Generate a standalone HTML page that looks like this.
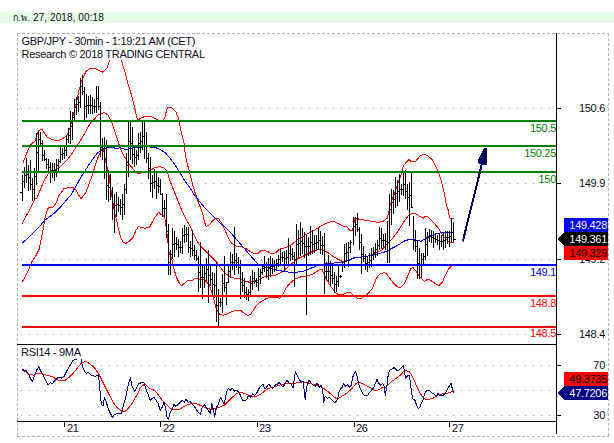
<!DOCTYPE html>
<html><head><meta charset="utf-8"><title>GBP/JPY - 30min</title>
<style>
html,body{margin:0;padding:0;background:#fff;}
body{width:614px;height:443px;overflow:hidden;position:relative;font-family:"Liberation Sans","Noto Sans CJK SC",sans-serif;}
#hdr{position:absolute;left:0;top:12px;width:614px;height:11px;background:#e6fde6;}
#hdr span{position:absolute;left:13px;top:0px;font-size:10px;letter-spacing:0.08px;line-height:12px;color:#0a0a22;white-space:nowrap;}
#hdr i{font-style:normal;font-size:9px;letter-spacing:0.3px;}
svg{position:absolute;left:0;top:0;}
svg text{font-family:"Liberation Sans","Noto Sans CJK SC",sans-serif;font-size:11px;letter-spacing:-0.3px;}
</style></head><body>
<div id="hdr"><span><i>ก.พ.</i> 27, 2018, 00:18</span></div>
<svg width="614" height="443" viewBox="0 0 614 443">
<g fill="none" stroke="#b0b0b0" stroke-width="1" stroke-dasharray="3 2" shape-rendering="crispEdges">
<path d="M17 33.5H609"/><path d="M17.5 33V437"/><path d="M608.5 33V437"/><path d="M17 436.5H609"/></g>
<g fill="none" stroke="#a8a8a8" stroke-width="1" stroke-dasharray="1 7" shape-rendering="crispEdges">
<path d="M21 108.5H556"/>
<path d="M21 183.5H556"/>
<path d="M21 259.5H556"/>
<path d="M21 334.5H556"/>
<path d="M21 365.5H556"/>
<path d="M21 390.5H556"/>
<path d="M21 415.5H556"/>
</g>
<g fill="none" stroke-width="1" stroke-linejoin="round" shape-rendering="crispEdges">
<path stroke="#ff0000" d="M23.0 163.0 L28.0 150.0 L30.3 145.0 L35.0 141.0 L38.7 130.5 L42.0 129.3 L47.0 137.0 L52.0 139.5 L58.7 141.0 L65.0 137.0 L67.0 135.0 L70.0 128.0 L72.0 120.0 L75.0 108.0 L77.0 100.0 L79.0 90.0 L82.0 80.0 L86.0 71.5 L90.0 68.3 L95.3 68.5 L99.0 70.5 L103.0 72.2 L107.0 68.0 L109.4 61.0 L111.0 56.0 L113.0 51.0 L115.5 48.5 L118.0 51.0 L120.0 56.0 L121.3 60.0 L125.3 73.3 L128.0 84.0 L132.0 96.7 L136.3 115.0 L137.5 120.5 L141.0 118.0 L146.0 116.0 L151.0 116.5 L156.0 119.0 L160.0 121.0 L163.0 120.5 L165.0 117.0 L166.6 110.0 L168.0 107.0 L172.0 108.0 L176.0 112.0 L178.7 119.0 L180.3 128.0 L182.3 136.0 L184.0 143.0 L185.3 154.0 L187.3 164.0 L189.0 170.0 L192.0 182.0 L195.0 192.5 L198.0 201.5 L201.0 209.0 L203.0 215.0 L204.3 222.0 L206.3 226.4 L209.3 225.0 L212.3 221.3 L215.4 218.3 L218.4 218.3 L220.4 221.3 L223.4 226.4 L226.4 233.4 L228.4 238.0 L231.4 243.0 L235.5 246.0 L240.5 246.4 L246.5 249.0 L252.5 253.0 L257.6 253.7 L260.6 251.0 L263.0 250.2 L267.0 251.2 L272.0 253.9 L276.0 252.7 L279.0 249.2 L285.0 247.8 L291.0 245.2 L297.0 240.2 L305.0 235.2 L313.0 231.1 L321.0 226.1 L327.0 223.1 L333.0 221.1 L338.0 223.7 L343.0 226.1 L347.0 227.1 L350.0 230.4 L352.0 231.0 L353.5 226.0 L355.0 218.3 L360.0 219.3 L366.0 220.3 L372.1 221.3 L378.1 222.3 L383.2 221.3 L387.2 218.3 L388.6 213.3 L390.2 205.3 L392.2 199.2 L394.6 193.2 L396.6 187.2 L401.2 174.1 L403.3 166.3 L406.0 162.5 L409.0 159.4 L411.0 161.4 L415.5 161.8 L416.5 160.0 L420.4 155.7 L423.6 154.1 L427.7 155.5 L432.6 160.2 L435.8 166.3 L438.3 172.4 L440.7 178.5 L442.3 185.0 L444.5 194.2 L446.3 205.0 L448.2 209.9 L449.2 215.8 L450.2 218.2 L453.5 218.2"/>
<path stroke="#ff0000" d="M22.0 223.5 L29.0 211.0 L35.3 198.3 L37.0 198.0 L43.0 183.0 L48.0 174.0 L50.3 171.7 L57.0 169.0 L60.3 166.7 L67.0 160.0 L71.0 155.0 L75.3 148.3 L77.0 146.0 L83.7 135.0 L90.3 123.3 L98.7 114.5 L104.5 112.5 L108.0 115.0 L112.0 123.3 L117.0 138.3 L118.3 142.0 L120.0 148.0 L124.0 156.0 L129.0 164.0 L134.0 170.0 L138.0 174.0 L141.0 173.0 L146.0 171.5 L151.0 170.0 L155.0 167.5 L160.0 166.7 L164.0 168.0 L167.0 171.0 L170.0 181.0 L174.0 191.0 L178.0 201.0 L182.0 211.0 L186.0 219.0 L190.0 226.0 L193.0 233.0 L195.3 238.0 L198.3 243.0 L202.3 248.0 L207.3 253.0 L212.3 258.0 L217.4 263.0 L222.4 270.2 L226.4 274.2 L230.4 277.2 L234.5 278.2 L239.5 278.8 L244.5 281.2 L249.5 282.2 L253.5 281.8 L258.6 279.8 L263.0 277.3 L269.0 276.0 L275.0 275.4 L283.0 271.3 L291.0 264.3 L297.0 259.3 L303.0 256.3 L309.0 253.3 L315.0 250.2 L321.0 249.2 L325.0 251.2 L329.0 253.3 L333.0 256.3 L338.0 259.3 L342.0 261.3 L347.0 260.5 L353.4 258.3 L361.5 256.9 L367.5 256.3 L375.5 253.3 L381.6 250.2 L386.0 245.2 L392.0 239.2 L398.0 231.1 L403.0 223.1 L408.0 216.0 L412.0 213.4 L415.0 213.3 L419.0 215.8 L423.3 218.2 L424.8 216.5 L427.2 216.2 L429.7 218.7 L434.6 223.6 L438.5 228.5 L441.4 233.3 L443.8 236.8 L446.3 239.2 L448.7 242.0 L451.2 242.4 L453.5 242.4"/>
<path stroke="#ff0000" d="M22.0 282.4 L27.0 273.4 L32.1 261.3 L36.1 255.3 L39.1 249.3 L41.1 239.2 L43.1 229.2 L45.1 217.1 L48.1 208.1 L53.2 207.1 L56.2 203.0 L59.2 195.0 L62.0 191.5 L64.0 188.5 L72.0 187.0 L76.0 190.0 L81.0 199.0 L86.0 192.0 L92.0 176.0 L97.0 160.0 L101.0 150.5 L102.5 148.5 L104.0 152.0 L106.0 163.0 L109.0 175.0 L111.0 190.0 L113.0 203.0 L114.5 212.0 L116.3 218.9 L118.5 228.9 L121.0 238.3 L123.5 242.7 L126.0 243.3 L129.1 241.4 L132.9 237.7 L136.0 230.2 L138.5 226.4 L141.7 227.4 L144.8 228.3 L149.8 227.0 L151.7 223.2 L153.6 219.5 L156.1 215.7 L158.6 212.3 L161.1 214.5 L163.6 215.7 L164.9 218.2 L165.8 223.9 L166.8 232.7 L167.8 240.2 L168.7 251.7 L172.0 260.0 L173.8 268.0 L176.2 277.0 L179.2 283.0 L181.8 285.8 L185.2 282.6 L188.2 280.0 L192.3 280.6 L195.3 278.0 L199.0 279.0 L204.3 280.0 L209.3 285.0 L211.3 291.0 L213.4 298.0 L215.4 306.0 L217.4 311.0 L219.4 314.0 L223.4 315.4 L228.4 313.4 L232.4 311.4 L236.5 310.3 L240.5 310.3 L243.5 312.8 L247.5 315.4 L250.5 314.4 L253.5 310.3 L255.6 306.3 L258.6 303.3 L263.0 300.5 L267.0 298.2 L273.0 297.2 L280.0 298.2 L283.0 294.2 L286.0 288.2 L290.0 283.1 L295.0 279.1 L300.0 277.1 L306.0 276.1 L313.0 274.1 L319.0 270.1 L322.0 269.5 L324.3 275.1 L327.3 281.1 L331.3 287.2 L335.3 292.2 L338.4 294.8 L343.4 294.2 L347.4 292.2 L350.4 292.2 L353.4 295.2 L357.5 298.2 L361.5 298.2 L364.5 296.2 L368.5 293.2 L372.5 288.2 L374.5 283.1 L376.5 278.1 L379.6 274.1 L383.6 272.7 L386.0 273.3 L389.0 277.3 L393.0 282.4 L397.0 286.4 L400.0 287.8 L404.0 284.4 L408.0 275.3 L411.0 268.3 L413.0 267.5 L416.0 271.0 L419.0 275.5 L421.2 278.4 L424.2 281.4 L428.2 279.0 L432.3 281.4 L436.3 284.4 L439.3 285.4 L442.3 282.4 L445.3 275.3 L448.3 269.3 L451.3 266.3 L453.0 265.3"/>
<path stroke="#0000ff" d="M22.0 243.2 L29.0 237.2 L37.1 229.2 L45.1 220.1 L53.2 214.1 L61.2 206.1 L71.3 194.5 L80.3 178.3 L88.7 165.0 L97.0 153.3 L101.0 151.0 L103.7 148.6 L108.0 147.8 L113.7 147.9 L118.0 148.5 L120.0 147.5 L124.0 149.0 L128.0 149.0 L132.0 148.0 L138.0 147.8 L144.0 146.8 L150.0 147.0 L156.0 147.8 L161.0 150.0 L165.0 152.5 L170.0 158.0 L175.0 165.0 L180.0 173.0 L185.0 181.0 L190.0 188.0 L195.0 196.0 L200.0 202.0 L205.0 208.0 L210.0 213.0 L215.0 218.0 L220.0 223.0 L225.0 227.0 L230.0 232.0 L234.5 237.0 L240.5 244.0 L246.5 251.0 L252.5 258.0 L257.6 263.7 L263.0 266.5 L273.0 269.3 L283.0 271.3 L293.0 272.8 L303.0 271.3 L311.0 268.3 L319.0 264.5 L330.0 263.3 L343.0 262.3 L349.0 260.3 L355.0 257.3 L363.5 256.9 L371.5 255.3 L379.6 253.3 L386.0 251.6 L392.0 248.2 L398.0 245.2 L404.0 241.2 L410.0 239.2 L416.0 240.2 L421.2 241.2 L426.2 238.2 L432.3 235.1 L438.3 233.1 L446.3 232.7 L453.0 232.1"/>
</g>
<path fill="none" stroke="#000" stroke-width="1" shape-rendering="crispEdges" d="M20 192.5h2M22.5 175V201M23 181.5h1M24.5 167V188M25 175.5h1M26.5 158V183M27 174.5h1M28.5 165V191M29 177.5h1M30.5 160V190M31 184.5h1M32.5 178V201M33 189.5h1M34.5 168V200M35 176.5h1M36.5 133V185M37 152.5h1M38.5 131V171M39 139.5h1M40.5 132V147M41 143.5h1M42.5 140V161M43 155.5h1M44.5 150V161M45 159.5h1M46.5 158V169M47 164.5h1M48.5 159V173M49 167.5h1M50.5 162V183M51 170.5h1M52.5 163V178M53 170.5h1M54.5 163V181M55 170.5h1M56.5 159V177M57 165.5h1M58.5 159V171M59 161.5h1M60.5 147V163M61 154.5h1M62.5 148V160M63 153.5h1M64.5 145V159M65 150.5h1M66.5 135V156M67 139.5h1M68.5 128V143M69 135.5h1M70.5 111V144M71 126.5h1M72.5 112V140M73 117.5h1M74.5 99V122M75 107.5h1M76.5 97V115M77 104.5h1M78.5 96V112M79 102.5h1M80.5 78V108M81 86.5h1M82.5 75V95M83 91.5h1M84.5 87V120M85 106.5h1M86.5 94V118M87 105.5h1M88.5 96V114M89 105.5h1M90.5 95V114M91 105.5h1M92.5 97V114M93 106.5h1M94.5 99V113M95 106.5h1M96.5 86V113M97 98.5h1M98.5 86V110M99 106.5h1M100.5 102V157M101 147.5h1M102.5 138V160M103 149.5h1M104.5 137V179M105 159.5h1M106.5 140V200M107 185.5h1M108.5 170V202M109 187.5h1M110.5 174V200M111 193.5h1M112.5 187V220M113 207.5h1M114.5 194V233M115 205.5h1M116.5 192V217M117 204.5h1M118.5 197V212M119 205.5h1M120.5 199V215M121 207.5h1M122.5 194V220M123 204.5h1M124.5 184V215M125 189.5h1M126.5 153V194M127 165.5h1M128.5 122V177M129 141.5h1M130.5 120V160M131 143.5h1M132.5 127V164M133 154.5h1M134.5 145V167M135 157.5h1M136.5 150V165M137 155.5h1M138.5 133V160M139 143.5h1M140.5 132V153M141 141.5h1M142.5 122V150M143 136.5h1M144.5 120V159M145 145.5h1M146.5 132V163M147 158.5h1M148.5 153V179M149 168.5h1M150.5 157V192M151 183.5h1M152.5 175V198M153 182.5h1M154.5 169V189M155 181.5h1M156.5 173V199M157 185.5h1M158.5 177V193M159 186.5h1M160.5 179V195M161 194.5h1M162.5 193V217M163 208.5h1M164.5 200V217M165 208.5h1M166.5 194V238M167 231.5h1M168.5 224V275M169 262.5h1M170.5 250V275M171 254.5h1M172.5 228V259M173 244.5h1M174.5 231V257M175 243.5h1M176.5 237V250M177 244.5h1M178.5 239V257M179 247.5h1M180.5 241V253M181 247.5h1M182.5 228V254M183 235.5h1M184.5 225V243M185 234.5h1M186.5 227V242M187 234.5h1M188.5 227V253M189 247.5h1M190.5 241V257M191 248.5h1M192.5 230V256M193 250.5h1M194.5 245V260M195 255.5h1M196.5 250V261M197 258.5h1M198.5 256V292M199 272.5h1M200.5 242V288M201 277.5h1M202.5 266V299M203 277.5h1M204.5 265V288M205 273.5h1M206.5 258V281M207 269.5h1M208.5 250V303M209 275.5h1M210.5 264V286M211 279.5h1M212.5 272V296M213 284.5h1M214.5 273V298M215 285.5h1M216.5 262V322M217 305.5h1M218.5 289V326M219 302.5h1M220.5 298V307M221 302.5h1M222.5 274V313M223 283.5h1M224.5 256V292M225 287.5h1M226.5 282V305M227 282.5h1M228.5 264V283M229 271.5h1M230.5 252V278M231 262.5h1M232.5 254V270M233 262.5h1M234.5 227V275M235 260.5h1M236.5 253V268M237 262.5h1M238.5 257V274M239 267.5h1M240.5 260V299M241 282.5h1M242.5 272V292M243 285.5h1M244.5 278V298M245 292.5h1M246.5 287V300M247 294.5h1M248.5 289V301M249 292.5h1M250.5 276V296M251 283.5h1M252.5 270V290M253 278.5h1M254.5 272V284M255 281.5h1M256.5 278V287M257 282.5h1M258.5 268V291M259 276.5h1M260.5 269V284M261 272.5h1M262.5 265V275M263 268.5h1M264.5 256V272M265 267.5h1M266.5 262V278M267 270.5h1M268.5 258V280M269 267.5h1M270.5 256V277M271 266.5h1M272.5 258V274M273 266.5h1M274.5 260V272M275 265.5h1M276.5 259V270M277 263.5h1M278.5 255V267M279 259.5h1M280.5 249V264M281 257.5h1M282.5 252V262M283 257.5h1M284.5 251V272M285 258.5h1M286.5 250V266M287 257.5h1M288.5 238V265M289 253.5h1M290.5 246V261M291 254.5h1M292.5 248V260M293 256.5h1M294.5 252V287M295 259.5h1M296.5 224V266M297 244.5h1M298.5 230V258M299 243.5h1M300.5 222V256M301 241.5h1M302.5 228V254M303 243.5h1M304.5 232V258M305 246.5h1M306.5 235V315M307 246.5h1M308.5 237V256M309 246.5h1M310.5 226V255M311 242.5h1M312.5 230V254M313 244.5h1M314.5 235V253M315 243.5h1M316.5 235V251M317 242.5h1M318.5 228V250M319 240.5h1M320.5 231V254M321 245.5h1M322.5 236V255M323 245.5h1M324.5 233V294M325 271.5h1M326.5 262V280M327 271.5h1M328.5 255V282M329 271.5h1M330.5 261V286M331 275.5h1M332.5 266V284M333 278.5h1M334.5 272V293M335 284.5h1M336.5 276V292M337 281.5h1M338.5 264V287M339 276.5h1M340.5 275V278M341 276.5h1M342.5 261V272M343 264.5h1M344.5 244V268M345 253.5h1M346.5 243V262M347 252.5h1M348.5 242V267M349 247.5h1M350.5 240V253M351 242.5h1M353.5 217V245M354 226.5h1M355.5 217V236M356 224.5h1M357.5 213V232M358 229.5h1M359.5 227V250M360 242.5h1M361.5 234V274M362 254.5h1M363.5 246V262M364 258.5h1M365.5 254V270M366 263.5h1M367.5 256V272M368 262.5h1M369.5 253V268M370 260.5h1M371.5 248V267M372 254.5h1M373.5 247V260M374 252.5h1M375.5 243V258M376 249.5h1M377.5 240V256M378 245.5h1M379.5 227V250M380 238.5h1M381.5 228V249M382 240.5h1M383.5 234V247M384 240.5h1M385.5 233V250M386 241.5h1M387.5 221V263M388 242.5h1M389.5 194V263M390 209.5h1M391.5 189V225M392 202.5h1M393.5 190V214M394 199.5h1M395.5 177V208M396 193.5h1M397.5 180V206M398 191.5h1M399.5 174V202M400 189.5h1M401.5 184V195M402 189.5h1M403.5 172V196M404 184.5h1M405.5 170V199M406 191.5h1M407.5 184V210M408 197.5h1M409.5 182V226M410 195.5h1M411.5 171V208M412 207.5h1M413.5 216V250M414 240.5h1M415.5 230V252M416 246.5h1M417.5 240V279M418 263.5h1M419.5 248V279M420 265.5h1M421.5 253V278M422 259.5h1M423.5 253V265M424 256.5h1M425.5 228V260M426 244.5h1M427.5 232V256M428 237.5h1M429.5 229V242M430 236.5h1M431.5 230V243M432 237.5h1M433.5 231V248M434 238.5h1M435.5 233V243M436 239.5h1M437.5 235V245M438 240.5h1M439.5 233V250M440 241.5h1M441.5 235V247M442 241.5h1M443.5 232V250M444 240.5h1M445.5 231V248M446 237.5h1M447.5 231V244M448 237.5h1M449.5 231V247M450 236.5h1M451.5 218V242M452 232.5h1M453.5 222V242M454 239.5h2"/>
<g shape-rendering="crispEdges">
<rect x="22" y="120" width="534" height="2" fill="#008000"/>
<rect x="22" y="145" width="534" height="2" fill="#008000"/>
<rect x="22" y="171" width="534" height="2" fill="#008000"/>
<rect x="22" y="264" width="534" height="2" fill="#0000ff"/>
<rect x="22" y="295" width="534" height="2" fill="#ff0000"/>
<rect x="22" y="326" width="534" height="2" fill="#ff0000"/>
</g>
<g shape-rendering="crispEdges"><path d="M462.8 241.5L481.6 165" stroke="#000058" stroke-width="2" fill="none"/>
<path d="M484 148H487V165H482L478 163V160Z" fill="#000058"/></g>
<g stroke="#000" stroke-width="1" fill="none" shape-rendering="crispEdges">
<path d="M556.5 33V434"/><path d="M17 344.5H556"/><path d="M17 421.5H556"/>
<path d="M557 108.5h4"/>
<path d="M557 183.5h4"/>
<path d="M557 259.5h4"/>
<path d="M557 334.5h4"/>
<path d="M557 365.5h4"/>
<path d="M557 415.5h4"/>
<path d="M64.5 422v5"/>
<path d="M160.5 422v5"/>
<path d="M257.5 422v5"/>
<path d="M354.5 422v5"/>
<path d="M449.5 422v5"/>
</g>
<rect x="19" y="35" width="187" height="25" fill="#fff"/>
<text x="21.5" y="45" fill="#0a0a22">GBP/JPY - 30min - 1:19:21 AM (CET)</text>
<text x="21.5" y="58" fill="#0a0a22">Research © 2018 TRADING CENTRAL</text>
<text x="21" y="356" fill="#0a0a22">RSI14 - 9MA</text>
<text x="556" y="132" text-anchor="end" fill="#008000">150.5</text>
<text x="556" y="157" text-anchor="end" fill="#008000">150.25</text>
<text x="556" y="183" text-anchor="end" fill="#008000">150</text>
<text x="556" y="276" text-anchor="end" fill="#0000ff">149.1</text>
<text x="556" y="307" text-anchor="end" fill="#ff0000">148.8</text>
<text x="556" y="337" text-anchor="end" fill="#ff0000">148.5</text>
<text x="605" y="112" text-anchor="end" fill="#0a0a22">150.6</text>
<text x="605" y="187" text-anchor="end" fill="#0a0a22">149.9</text>
<text x="605" y="263" text-anchor="end" fill="#0a0a22">149.2</text>
<text x="605" y="338" text-anchor="end" fill="#0a0a22">148.4</text>
<text x="605" y="369" text-anchor="end" fill="#0a0a22">70</text>
<text x="605" y="419" text-anchor="end" fill="#0a0a22">30</text>
<text x="67" y="432" fill="#0a0a22">21</text>
<text x="163" y="432" fill="#0a0a22">22</text>
<text x="259" y="432" fill="#0a0a22">23</text>
<text x="356" y="432" fill="#0a0a22">26</text>
<text x="452" y="432" fill="#0a0a22">27</text>
<g shape-rendering="crispEdges">
<rect x="564" y="218" width="44" height="14" fill="#0000ff"/>
<path d="M557 239L564 232H608V246H564Z" fill="#000"/>
<rect x="564" y="246" width="44" height="14" fill="#ff0000"/>
<rect x="564" y="372" width="44" height="14" fill="#ff0000"/>
<path d="M557 393L564 386H608V400H564Z" fill="#000080"/>
</g>
<text x="607" y="229" text-anchor="end" fill="#fff">149.428</text>
<text x="607" y="243" text-anchor="end" fill="#fff">149.361</text>
<text x="607" y="257" text-anchor="end" fill="#000">149.329</text>
<text x="607" y="383" text-anchor="end" fill="#000">49.3735</text>
<text x="607" y="397" text-anchor="end" fill="#fff">47.7206</text>
<g fill="none" stroke-width="1" stroke-linejoin="round" shape-rendering="crispEdges">
<path stroke="#ff0000" d="M22.0 370.1 L25.0 371.1 L29.1 374.2 L34.1 375.2 L37.1 373.2 L43.1 374.2 L49.2 375.8 L53.2 377.2 L57.2 379.8 L61.2 380.8 L65.2 380.2 L69.3 377.2 L73.3 373.2 L77.3 368.1 L81.3 363.1 L84.3 361.7 L87.3 362.1 L91.4 365.1 L95.4 369.1 L99.4 375.2 L103.4 383.2 L107.4 391.2 L111.5 399.3 L114.5 404.3 L117.5 408.3 L121.5 410.7 L124.5 411.9 L127.5 409.3 L131.5 404.3 L135.6 397.3 L138.6 391.8 L140.0 388.2 L143.0 385.2 L145.0 384.2 L148.0 387.2 L151.1 389.2 L154.1 390.2 L157.1 393.3 L160.1 397.3 L163.1 401.3 L166.1 404.3 L169.1 407.3 L172.2 409.3 L176.2 409.7 L180.2 408.9 L184.2 406.3 L188.2 404.3 L192.3 403.5 L196.3 403.9 L200.3 405.3 L204.3 407.3 L208.3 408.7 L212.3 409.7 L216.4 408.3 L220.4 406.7 L224.4 405.3 L228.4 401.3 L232.4 397.3 L236.5 393.3 L240.5 392.3 L244.5 393.3 L248.5 395.3 L252.5 396.7 L256.6 396.3 L260.6 394.3 L263.0 392.3 L267.0 389.2 L271.0 387.8 L275.1 386.6 L279.1 385.2 L283.1 384.2 L287.1 383.8 L291.1 383.8 L295.2 383.2 L299.2 382.2 L303.2 381.8 L307.2 382.6 L311.2 383.8 L315.3 384.6 L319.3 386.2 L323.3 388.2 L327.3 391.2 L331.3 394.3 L335.3 397.9 L337.4 398.9 L340.4 397.3 L343.4 395.3 L347.4 392.7 L351.4 389.2 L355.4 384.2 L358.5 381.8 L361.5 383.2 L365.5 385.2 L369.5 387.2 L373.5 389.8 L376.5 390.6 L379.6 389.2 L382.6 387.2 L385.2 387.8 L386.0 387.2 L389.0 384.2 L392.0 381.2 L395.0 379.2 L398.1 376.8 L401.1 374.6 L403.7 371.1 L406.1 370.7 L409.1 371.6 L411.1 374.2 L414.1 380.2 L417.1 387.2 L420.2 393.3 L423.2 397.3 L426.2 399.9 L429.2 399.3 L433.2 398.3 L436.2 395.9 L439.3 394.3 L443.3 393.9 L447.3 393.3 L450.3 392.3 L453.3 391.2"/>
<path stroke="#000080" d="M22.0 370.1 L23.4 369.1 L24.6 371.8 L26.0 370.1 L27.5 373.2 L29.1 375.2 L30.7 379.2 L32.7 381.2 L34.7 375.2 L36.7 370.1 L38.7 366.5 L40.7 371.1 L42.7 374.2 L45.1 379.2 L48.1 385.2 L50.2 382.6 L52.2 383.8 L55.2 380.2 L58.2 377.2 L61.2 378.2 L64.2 376.2 L67.2 370.1 L70.3 365.1 L73.3 360.1 L76.3 359.5 L77.3 359.5"/>
<path stroke="#000080" d="M81.3 359.5 L82.3 366.1 L84.3 371.1 L86.3 373.2 L88.3 372.2 L91.4 375.2 L94.4 376.2 L97.4 375.8 L98.4 375.2 L99.4 383.2 L100.4 396.3 L101.4 404.3 L103.0 406.3 L104.4 397.3 L106.4 402.3 L108.4 409.3 L110.4 413.4 L112.5 417.4 L114.5 414.4 L117.5 413.4 L121.5 414.0 L123.1 406.3 L125.5 398.3 L127.5 388.2 L129.5 380.2 L130.5 377.8 L132.0 386.2 L134.6 391.2 L136.6 388.2 L138.6 383.2 L140.0 383.2 L142.0 382.2 L144.0 382.6 L146.0 389.2 L148.0 394.3 L150.0 400.3 L152.1 398.3 L154.1 397.3 L156.1 400.3 L158.1 403.3 L160.1 410.3 L162.1 407.3 L164.1 402.3 L165.7 409.3 L167.1 417.4 L168.5 419.4 L170.1 412.3 L172.2 409.3 L173.8 404.3 L175.8 406.3 L178.2 404.3 L180.2 402.3 L182.2 400.3 L184.2 402.3 L186.2 399.3 L188.2 402.3 L190.2 401.3 L192.3 404.3 L194.3 406.3 L196.3 409.3 L198.3 412.3 L200.3 414.4 L202.3 407.3 L204.3 404.3 L206.3 407.3 L208.3 410.3 L210.3 413.4 L211.9 403.3 L213.4 410.3 L214.8 416.4 L216.4 407.3 L218.4 404.3 L220.4 397.3 L222.4 400.3 L224.0 404.3 L225.4 398.3 L226.8 391.2 L228.4 388.2 L230.4 390.2 L232.4 388.2 L234.5 391.2 L236.5 390.2 L238.5 391.8 L240.5 395.3 L242.5 400.3 L244.5 400.3 L246.5 399.9 L248.5 395.3 L250.5 397.3 L252.5 393.9 L254.5 395.3 L256.6 393.3 L258.6 389.2 L260.6 386.2 L263.0 384.2 L265.0 389.2 L267.0 386.6 L269.0 383.8 L271.0 387.2 L273.0 388.2 L275.1 385.2 L277.1 384.2 L279.1 382.2 L281.1 385.2 L283.1 387.2 L285.1 383.2 L287.1 380.2 L289.1 383.2 L291.1 384.2 L293.1 388.2 L294.8 375.2 L295.6 371.8 L297.2 375.2 L299.2 379.2 L301.2 382.2 L303.2 381.2 L305.2 399.3 L306.2 390.2 L307.6 383.2 L309.2 380.2 L311.2 383.2 L313.2 385.2 L315.3 386.2 L317.3 383.2 L319.3 387.2 L321.3 385.2 L322.9 392.3 L323.7 402.3 L325.3 396.3 L327.3 398.3 L329.3 397.3 L331.3 399.3 L333.3 401.3 L335.3 402.7 L337.4 399.3 L339.0 392.3 L340.4 389.2 L342.4 387.2 L343.4 383.2 L345.4 386.2 L347.4 384.6 L349.4 387.2 L351.4 385.2 L352.4 378.2 L353.8 374.2 L355.4 371.8 L357.1 376.2 L358.5 383.2 L360.5 389.2 L362.5 393.3 L364.5 395.3 L367.5 395.9 L369.5 392.3 L371.5 390.2 L373.5 388.2 L375.5 383.2 L377.1 379.2 L378.6 383.2 L380.6 385.2 L382.6 383.2 L384.6 387.2 L385.2 395.3 L386.0 391.2 L387.0 385.2 L388.4 373.2 L390.0 370.1 L392.0 369.1 L394.0 367.7 L396.0 369.7 L398.1 371.1 L400.1 369.1 L402.1 367.1 L403.5 365.1 L404.5 372.2 L405.5 378.2 L407.1 376.2 L409.1 375.2 L410.5 383.2 L411.7 393.3 L413.1 399.3 L415.1 400.3 L416.5 405.3 L418.2 408.7 L419.8 407.3 L421.2 403.3 L423.2 399.3 L424.6 393.3 L426.2 391.2 L428.2 390.2 L430.2 391.2 L432.2 393.3 L434.2 394.3 L436.2 396.3 L437.8 393.3 L439.3 395.3 L441.3 395.3 L443.3 395.3 L445.3 393.3 L447.3 389.2 L449.3 386.2 L451.3 383.2 L452.3 389.2 L453.9 392.7"/>
</g>
</svg></body></html>
